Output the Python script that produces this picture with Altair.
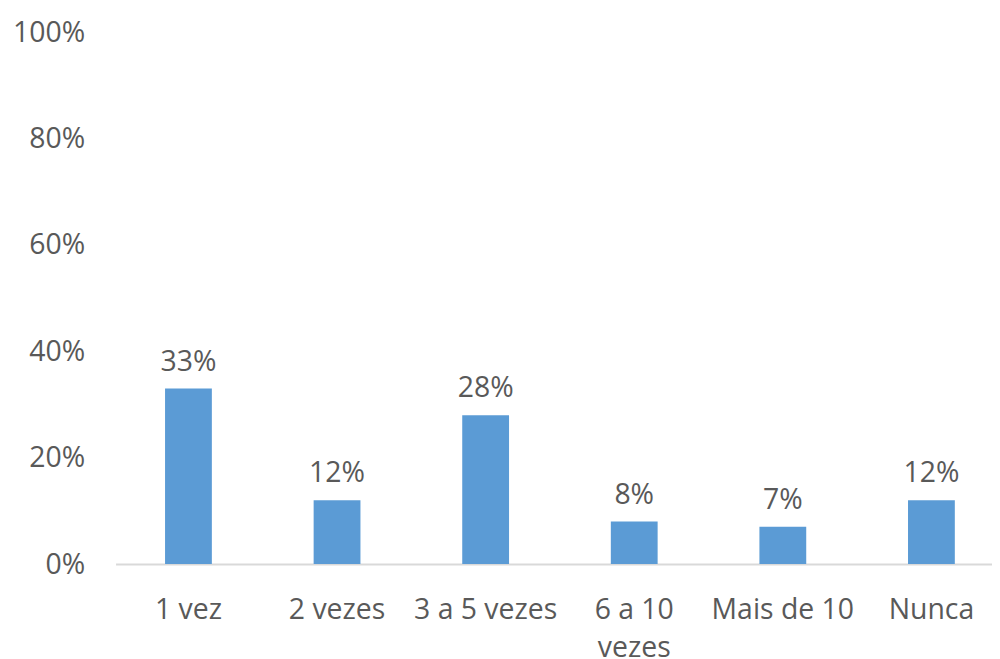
import altair as alt
import pandas as pd

categories = ["1 vez", "2 vezes", "3 a 5 vezes", "6 a 10 vezes", "Mais de 10", "Nunca"]
values = [0.33, 0.12, 0.28, 0.08, 0.07, 0.12]

df = pd.DataFrame({"cat": categories, "val": values})

FONT = "Open Sans"
GREY = "#595959"
FS = 28.5

x = alt.X(
    "cat:N",
    sort=categories,
    title=None,
    scale=alt.Scale(paddingInner=0.685, paddingOuter=0.2916, align=0.571),
    axis=alt.Axis(
        labelAngle=0,
        labelFont=FONT,
        labelFontSize=FS,
        labelColor=GREY,
        labelPadding=32,
        labelLineHeight=38,
        labelExpr="datum.label == '6 a 10 vezes' ? ['6 a 10', 'vezes'] : datum.label",
        ticks=False,
        domainColor="#d9d9d9",
        domainWidth=2,
        grid=False,
    ),
)
y = alt.Y(
    "val:Q",
    title=None,
    scale=alt.Scale(domain=[0, 1]),
    axis=alt.Axis(
        format=".0%",
        values=[0, 0.2, 0.4, 0.6, 0.8, 1.0],
        labelFont=FONT,
        labelFontSize=FS,
        labelColor=GREY,
        labelPadding=31,
        ticks=False,
        domain=False,
        grid=False,
    ),
)

bars = alt.Chart(df).mark_bar(color="#5B9BD5").encode(x=x, y=y)
labels = alt.Chart(df).mark_text(
    font=FONT, fontSize=FS, color=GREY, baseline="alphabetic", dy=-18
).encode(x=alt.X("cat:N", sort=categories), y="val:Q", text=alt.Text("val:Q", format=".0%"))

chart = (
    (bars + labels)
    .properties(
        width=880,
        height=534,
        autosize=alt.AutoSizeParams(type="none"),
        padding={"left": 108, "top": 23, "right": 0, "bottom": 94},
    )
    .configure_view(stroke=None)
)

chart.save("out.html", embed_options={"renderer": "svg", "actions": False})
